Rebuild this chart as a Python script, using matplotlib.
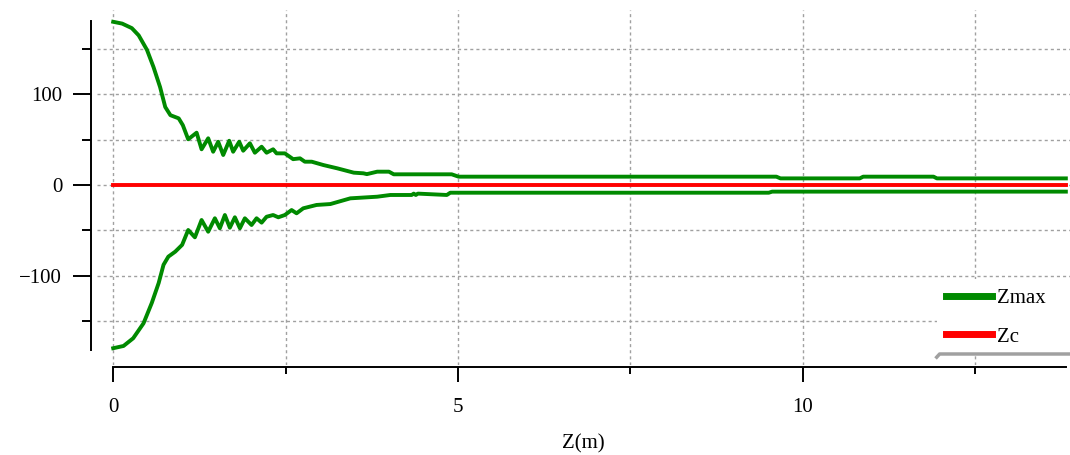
import numpy as np
import matplotlib
matplotlib.use("Agg")
import matplotlib.pyplot as plt
from matplotlib.ticker import MultipleLocator

plt.rcParams['font.family'] = ['Liberation Serif', 'DejaVu Serif']

# upper envelope (Zmax, positive side)
zu = [0, 0.13, 0.27, 0.37, 0.49, 0.585, 0.68, 0.755, 0.83, 0.95, 1.01,
      1.088, 1.21, 1.282, 1.378, 1.45, 1.523, 1.596, 1.683, 1.74, 1.828,
      1.886, 1.983, 2.055, 2.153, 2.225, 2.32, 2.37, 2.49, 2.56, 2.61,
      2.71, 2.78, 2.88, 3.05, 3.25, 3.49, 3.63, 3.68, 3.83, 4.0, 4.07,
      4.91, 5.01, 9.62, 9.68, 10.83, 10.88, 11.9, 11.95, 13.82]
zmax_up = [180, 178, 173, 165, 149, 130, 108, 86, 77, 73.5, 66,
           50.4, 57.7, 39.4, 51.5, 36.7, 47.7, 33.1, 48.8, 36.7, 47.7,
           37.8, 46, 35.6, 42.2, 35.6, 39.4, 34.9, 34.9, 31.2, 28.5,
           29.4, 25.7, 25.7, 22, 18.4, 13.6, 12.9, 12, 14.7, 14.7, 11.8,
           11.8, 9.2, 9.2, 7.3, 7.3, 9.2, 9.2, 7.3, 7.3]

# lower envelope (Zmax, negative side)
zl = [0, 0.15, 0.29, 0.44, 0.56, 0.66, 0.73, 0.8, 0.9, 1.0,
      1.088, 1.185, 1.282, 1.378, 1.475, 1.547, 1.62, 1.692, 1.765, 1.838,
      1.91, 2.007, 2.08, 2.153, 2.225, 2.32, 2.395, 2.49, 2.588, 2.66,
      2.757, 2.95, 3.15, 3.44, 3.83, 4.02, 4.33, 4.36, 4.39, 4.42, 4.84,
      4.89, 9.51, 9.56, 13.82]
zmax_lo = [-180, -177.5, -169, -152.5, -130, -108, -88, -79, -73.5, -66,
           -49.6, -57.7, -38.6, -51.5, -36.7, -47.7, -33.1, -47.1, -35.6, -47.7,
           -36.7, -44.1, -36.7, -41.5, -35, -33.1, -35.6, -33.1, -27.6, -31.2,
           -25.7, -22, -21, -14.7, -12.9, -11, -11, -9.5, -11, -9.5, -11,
           -8.5, -8.5, -7.3, -7.3]

zc_x = [0, 13.82]
zc = [0, 0]

green = '#008a00'
red = '#ff0000'

fig = plt.figure(figsize=(10.7, 4.55), dpi=100)
ax = fig.add_axes([97/1070, 1 - 365/455, 973/1070, 355/455])

ax.plot(zu, zmax_up, color=green, lw=2.8, label='Zmax', zorder=3)
ax.plot(zl, zmax_lo, color=green, lw=2.8, zorder=3)
ax.plot(zc_x, zc, color=red, lw=2.8, label='Zc', zorder=3)

ax.set_xlim(-0.235, 13.88)
ax.set_ylim(-198.5, 193)

ax.xaxis.set_major_locator(MultipleLocator(5))
ax.xaxis.set_minor_locator(MultipleLocator(2.5))
ax.yaxis.set_major_locator(MultipleLocator(100))
ax.yaxis.set_minor_locator(MultipleLocator(50))

ax.grid(True, which='both', color='#a0a0a0', linestyle=(0, (2.2, 2.2)), lw=1.0)

for s in ['top', 'right']:
    ax.spines[s].set_visible(False)
ax.spines['left'].set_position(('outward', 4))
ax.spines['bottom'].set_position(('outward', 1.5))
ax.spines['left'].set_bounds(-182, 181)
ax.spines['bottom'].set_bounds(0, 13.82)
ax.spines['left'].set_linewidth(1.4)
ax.spines['bottom'].set_linewidth(1.4)

ax.tick_params(axis='y', which='major', length=13, width=1.4, labelsize=15, pad=8)
ax.tick_params(axis='y', which='minor', length=6.5, width=1.4)
ax.tick_params(axis='x', which='major', length=11, width=1.4, labelsize=15, pad=11)
ax.tick_params(axis='x', which='minor', length=5, width=1.4)

ax.set_xlabel('Z(m)', fontsize=15, labelpad=13)

leg = ax.legend(loc='lower left', bbox_to_anchor=(0.863, 0.025, 0.137, 0.2),
                mode='expand', borderaxespad=0,
                frameon=True, fancybox=False, facecolor='white', edgecolor='none',
                framealpha=1, fontsize=15, handlelength=2.2, handletextpad=0.25,
                labelspacing=0.9, borderpad=0.45)
for ln in leg.get_lines():
    ln.set_linewidth(5)
leg.set_zorder(5)

ax.plot([0.863, 0.866, 1.0], [0.022, 0.031, 0.031], transform=ax.transAxes,
        color='#a0a0a0', lw=2.5, clip_on=False, zorder=6)

fig.savefig('out.png', dpi=100)
